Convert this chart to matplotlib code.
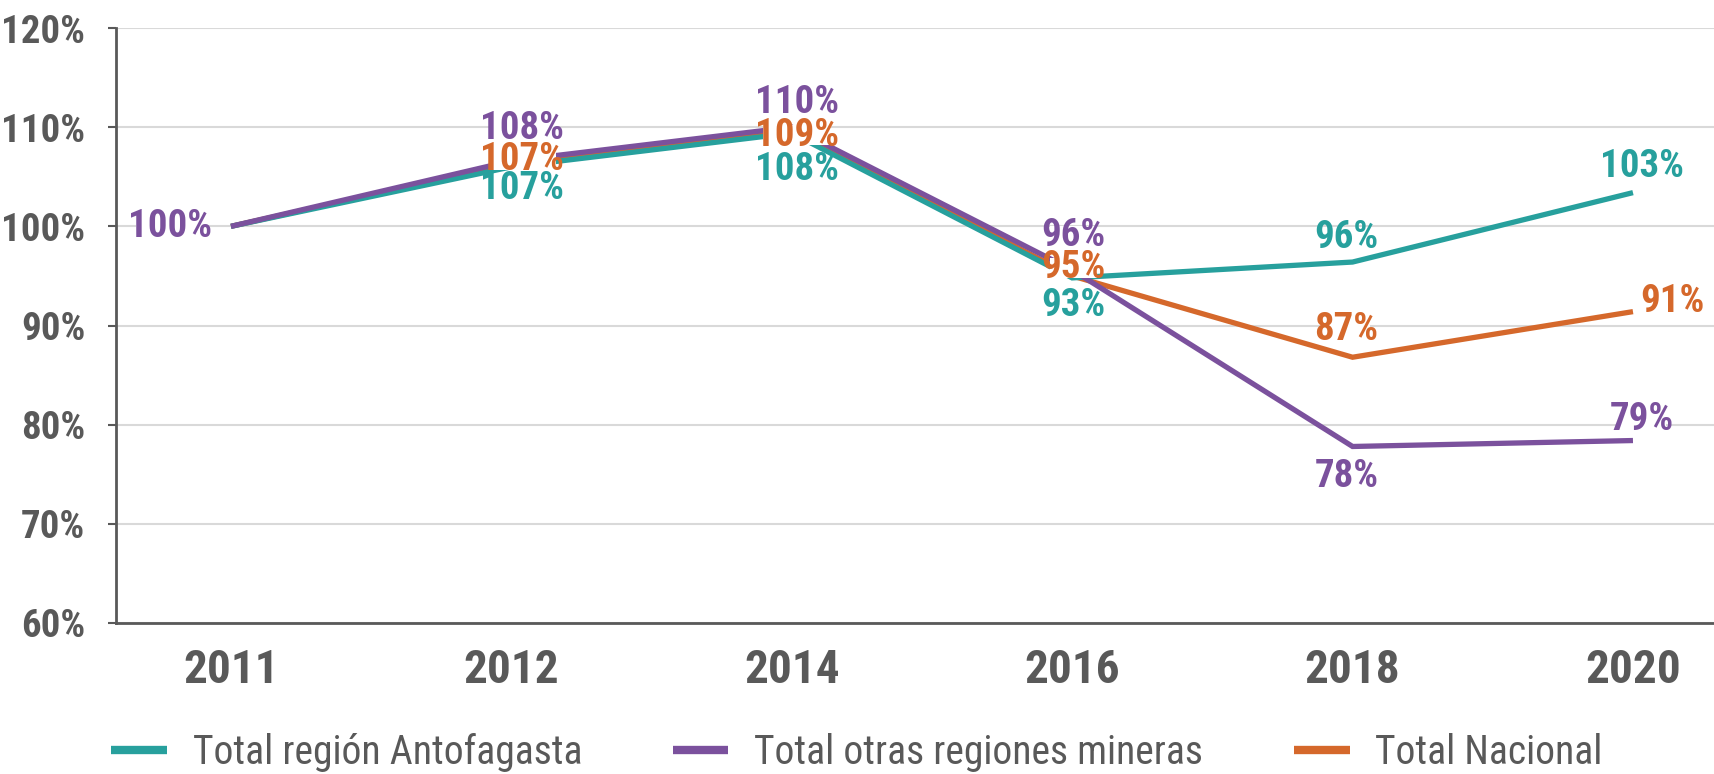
import matplotlib
matplotlib.use("Agg")
import matplotlib.pyplot as plt
from matplotlib.lines import Line2D
from matplotlib.font_manager import FontProperties

# ---- data ----
years = ["2011", "2012", "2014", "2016", "2018", "2020"]
antofagasta = [100.0, 106.0, 109.4, 94.8, 96.4, 103.4]
otras = [100.0, 106.6, 110.0, 95.6, 77.8, 78.4]
nacional = [100.0, 106.3, 109.7, 95.0, 86.8, 91.4]

labels_antofagasta = [None, "107%", "108%", "93%", "96%", "103%"]
labels_otras = ["100%", "108%", "110%", "96%", "78%", "79%"]
labels_nacional = [None, "107%", "109%", "95%", "87%", "91%"]

series_names = ["Total región Antofagasta", "Total otras regiones mineras", "Total Nacional"]
yticks = [60, 70, 80, 90, 100, 110, 120]
ytick_labels = ["60%", "70%", "80%", "90%", "100%", "110%", "120%"]

# ---- style ----
TEAL = "#27A09D"
PURPLE = "#7B519D"
ORANGE = "#D5682B"
GREY = "#595959"
GRID = "#D9D9D9"
NARROW = ["Roboto Condensed", "Liberation Sans Narrow", "DejaVu Sans"]

# label offsets in pixels (dx, dy) relative to the data point
off_antofagasta = [None, (11, -22), (5, -36), (1, -28), (-6, 25), (9, 26)]
off_otras = [(-19, 0), (11, 32), (5, 25), (1, 34), (-6, -30), (9, 21)]
off_nacional = [None, (11, 4), (5, -5), (1, 8), (-6, 28), (39, 10)]

fig = plt.figure(figsize=(17.14, 7.74), dpi=100)
ax = fig.add_axes([116 / 1714, 0.1951, 1 - 116 / 1714, 0.9638 - 0.1951])

x = list(range(len(years)))
lw = 3.8
ax.plot(x, nacional, color=ORANGE, lw=lw, zorder=2, solid_joinstyle="miter", solid_capstyle="butt")
ax.plot(x, antofagasta, color=TEAL, lw=lw, zorder=3, solid_joinstyle="miter", solid_capstyle="butt")
ax.plot(x, otras, color=PURPLE, lw=lw, zorder=4, solid_joinstyle="miter", solid_capstyle="butt")

def put_labels(vals, labs, offs, color, z):
    for i, (v, lab, off) in enumerate(zip(vals, labs, offs)):
        if lab is None:
            continue
        ha = "right" if off[0] < -15 else "center"
        ax.annotate(lab, xy=(x[i], v), xytext=off, textcoords="offset pixels",
                    ha=ha, va="center", fontsize=28, fontweight="bold", fontstretch="condensed",
                    family=NARROW, color=color, zorder=z, annotation_clip=False,
                    bbox=dict(boxstyle="square,pad=-0.22", fc="white", ec="none"))

put_labels(otras, labels_otras, off_otras, PURPLE, 10)
put_labels(nacional, labels_nacional, off_nacional, ORANGE, 11)
put_labels(antofagasta, labels_antofagasta, off_antofagasta, TEAL, 12)

ax.set_ylim(60, 120)
ax.set_xlim(-0.41, 5.289)
ax.set_yticks(yticks)
ax.set_yticklabels(ytick_labels)
ax.set_xticks(x)
ax.set_xticklabels(years)
ax.yaxis.grid(True, color=GRID, lw=1.5, zorder=0)
ax.set_axisbelow(True)

for s in ["top", "right"]:
    ax.spines[s].set_visible(False)
for s in ["left", "bottom"]:
    ax.spines[s].set_color(GREY)
    ax.spines[s].set_linewidth(2)

ax.tick_params(axis="y", length=6, width=1.5, color=GREY, pad=16, labelcolor=GREY)
ax.tick_params(axis="x", length=0, pad=18, labelcolor=GREY)
for t in ax.get_yticklabels():
    t.set_fontfamily(NARROW)
    t.set_fontweight("bold")
    t.set_fontstretch("condensed")
    t.set_fontsize(28)
for t in ax.get_xticklabels():
    t.set_fontfamily(NARROW)
    t.set_fontweight("bold")
    t.set_fontstretch("condensed")
    t.set_fontsize(34)

handles = [Line2D([0], [0], color=c, lw=6, solid_capstyle="butt") for c in (TEAL, PURPLE, ORANGE)]
fig.legend(handles, series_names, loc="center", bbox_to_anchor=(0.5, 0.028), ncol=3,
           frameon=False, handlelength=1.4, handletextpad=0.65, columnspacing=2.3,
           prop=FontProperties(family=NARROW, size=28.5, stretch="condensed"), labelcolor=GREY)

fig.savefig("out.png", dpi=100, facecolor="white")
